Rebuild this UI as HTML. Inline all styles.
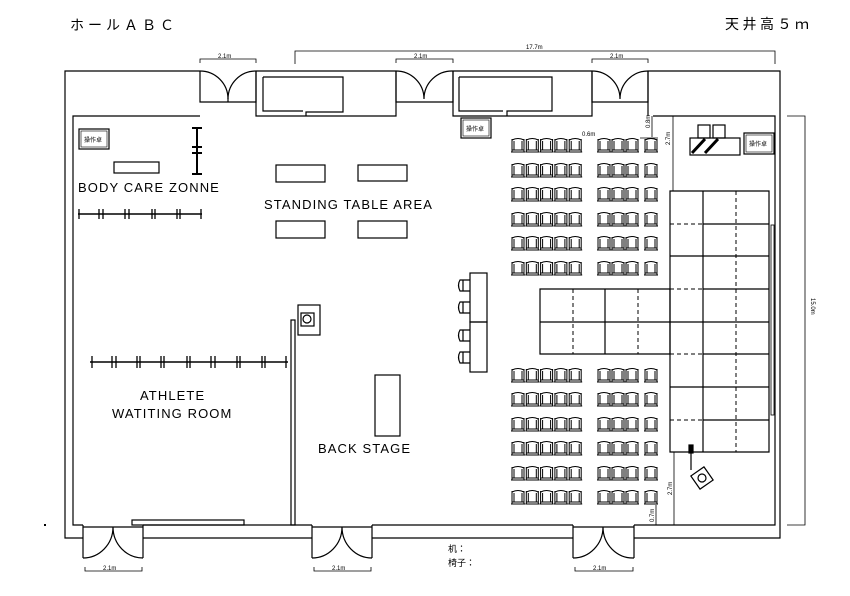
<!DOCTYPE html>
<html><head><meta charset="utf-8"><style>
html,body{margin:0;padding:0;background:#fff;}
svg{display:block;}
text{font-family:"Liberation Sans","Noto Sans CJK JP",sans-serif;fill:#000;}
.l{font-family:"Liberation Sans",sans-serif;font-size:13px;letter-spacing:1.1px;}
.s{font-size:6px;}
</style></head><body>
<svg width="850" height="596" viewBox="0 0 850 596" xmlns="http://www.w3.org/2000/svg">
<defs>
<g id="ch" fill="none" stroke="#000" stroke-width="1">
<path d="M1 3 Q7 0 13 3"/><path d="M1 2 V15 M13 2 V15 M0 15 H14 M3 4 V13 H11 V4 M1 13 H13"/>
</g>
<g id="row5"><use href="#ch" x="0"/><use href="#ch" x="14.3"/><use href="#ch" x="28.6"/><use href="#ch" x="42.9"/><use href="#ch" x="57.2"/></g>
<g id="row4"><use href="#ch" x="0"/><use href="#ch" x="14"/><use href="#ch" x="28"/><use href="#ch" x="47"/></g>
<g id="rowall"><use href="#row5" x="511"/><use href="#row4" x="597"/></g>
</defs>
<text x="70" y="30" font-size="14" letter-spacing="4">ホールＡＢＣ</text>
<text x="725" y="29" font-size="14" letter-spacing="3.5">天井高５ｍ</text>

<g fill="none" stroke="#000" stroke-width="1.2">
<path d="M200 71 H65 V538 H83"/>
<path d="M200 116 H73 V525 H83"/>
<path d="M256 71 H396 M453 71 H592 M648 71 H780 V538 H634"/>
<path d="M256 71 V116 H396 V71 M453 71 V116 H592 V71"/>
<path d="M648 71 V116 M653 116 H775 V525 H634"/>
<path d="M143 525 H312 M143 538 H312 M372 525 H573 M372 538 H573"/>
<path d="M263 77 H343 V112 H306 V116 M263 77 V111 H303"/>
<path d="M459 77 H552 V111 H507 V116 M459 77 V111 H503"/>
<path d="M200 71 V102 H256 V71 M228 102 V98"/>
<path d="M200 71 A28 28 0 0 1 228 99 A28 28 0 0 1 256 71"/>
<path d="M396 71 V102 H453 V71"/>
<path d="M396 71 A28 28 0 0 1 424 99 A28 28 0 0 1 453 71"/>
<path d="M592 71 V102 H648 V71"/>
<path d="M592 71 A28 28 0 0 1 620 99 A28 28 0 0 1 648 71"/>
<path d="M83 525 V558 M143 525 V558 M83 527 H143"/>
<path d="M83 558 A30 31 0 0 0 113 527 A30 31 0 0 0 143 558"/>
<path d="M312 525 V558 M372 525 V558 M312 527 H372"/>
<path d="M312 558 A30 31 0 0 0 342 527 A30 31 0 0 0 372 558"/>
<path d="M573 525 V558 M634 525 V558 M573 527 H634"/>
<path d="M573 558 A30 31 0 0 0 603 527 A30 31 0 0 0 634 558"/>
</g>

<g fill="none" stroke="#000" stroke-width="0.8">
<path d="M295 64 V51 H775 V64"/>
<path d="M200 63 V59 H256 V63 M396 63 V59 H453 V63 M592 63 V59 H648 V63"/>
<path d="M85 567 V571 H142 V567 M314 567 V571 H371 V567 M575 567 V571 H633 V567"/>
<path d="M787 116 H805 V525 H787"/>
<path d="M673 116 V191 M674 452 V525 M656 505 V525 M652 116 V137 M640 138 H658"/>
</g>
<g class="s">
<text x="218" y="58">2.1m</text><text x="414" y="58">2.1m</text><text x="610" y="58">2.1m</text>
<text x="526" y="49">17.7m</text>
<text x="103" y="570">2.1m</text><text x="332" y="570">2.1m</text><text x="593" y="570">2.1m</text>
<text x="582" y="136">0.6m</text>
<text transform="translate(811,298) rotate(90)">15.0m</text>
<text transform="translate(670,145) rotate(-90)">2.7m</text>
<text transform="translate(672,495) rotate(-90)">2.7m</text>
<text transform="translate(654,522) rotate(-90)">0.7m</text>
<text transform="translate(650,128) rotate(-90)">0.8m</text>
</g>

<g fill="none" stroke="#000" stroke-width="1.2">
<rect x="79" y="129" width="30" height="20"/><rect x="81" y="131" width="26" height="16" stroke-width="0.6"/>
<rect x="114" y="162" width="45" height="11"/>
<path d="M197 127 V175 M192 128 H202 M192 147 H202 M192 153 H202 M192 174 H202" stroke-width="2"/>
<path d="M78 214 H202" stroke-width="1.5"/>
<path d="M79 209 V219 M99 209 V219 M103 209 V219 M125 209 V219 M129 209 V219 M152 209 V219 M155 209 V219 M177 209 V219 M180 209 V219 M201 209 V219" stroke-width="1.3"/>
<rect x="276" y="165" width="49" height="17"/><rect x="358" y="165" width="49" height="16"/>
<rect x="276" y="221" width="49" height="17"/><rect x="358" y="221" width="49" height="17"/>
<path d="M90 362 H288" stroke-width="1.5"/>
<path d="M92 356 V368 M112 356 V368 M116 356 V368 M137 356 V368 M140 356 V368 M161 356 V368 M164 356 V368 M187 356 V368 M190 356 V368 M211 356 V368 M215 356 V368 M237 356 V368 M240 356 V368 M262 356 V368 M265 356 V368 M286 356 V368" stroke-width="1.3"/>
<rect x="132" y="520" width="112" height="5"/>
<rect x="291" y="320" width="4" height="205"/>
<rect x="298" y="305" width="22" height="30"/><rect x="301" y="313" width="13" height="13"/><circle cx="307" cy="319" r="4"/>
<rect x="375" y="375" width="25" height="61"/>
<rect x="461" y="118" width="30" height="20"/><rect x="463" y="120" width="26" height="16" stroke-width="0.6"/>
<rect x="744" y="133" width="30" height="21"/><rect x="746" y="135" width="26" height="17" stroke-width="0.6"/>
<rect x="690" y="138" width="50" height="17"/>
<rect x="698" y="125" width="12" height="13"/><rect x="713" y="125" width="12" height="13"/>
<path d="M692 153 L705 139 M705 153 L718 139" stroke-width="3"/>
<rect x="470" y="273" width="17" height="49"/><rect x="470" y="322" width="17" height="50"/>
<path d="M470 280 H460 Q457 285 460 291 H470 M470 302 H460 Q457 307 460 313 H470 M470 330 H460 Q457 335 460 341 H470 M470 352 H460 Q457 357 460 363 H470 M463 280 V291 M463 302 V313 M463 330 V341 M463 352 V363"/>
<path d="M670 191 H769 V452 H670 Z M703 191 V452"/>
<path d="M703 256 H769 M703 289 H769 M703 322 H769 M703 354 H769 M703 387 H769 M703 420 H769 M703 224 H769"/>
<path d="M670 256 H703 M670 322 H703 M670 387 H703"/>
<path d="M540 289 H670 V354 H540 Z M540 322 H670 M605 289 V354"/>
<rect x="771" y="225" width="3" height="190" stroke-width="0.8"/>
<rect x="689" y="445" width="4" height="8" fill="#000"/>
<path d="M691 453 V470"/>
<rect x="694" y="470" width="16" height="16" transform="rotate(-35 702 478)"/><circle cx="702" cy="478" r="4"/>
</g>
<g fill="none" stroke="#000" stroke-width="1" stroke-dasharray="4,3">
<path d="M736 191 V452"/>
<path d="M670 224 H703 M670 289 H703 M670 354 H703 M670 420 H703"/>
<path d="M573 289 V354 M638 289 V354"/>
</g>

<use href="#rowall" y="137"/><use href="#rowall" y="162"/><use href="#rowall" y="186"/>
<use href="#rowall" y="211"/><use href="#rowall" y="235"/><use href="#rowall" y="260"/>
<use href="#rowall" y="367"/><use href="#rowall" y="391"/><use href="#rowall" y="416"/>
<use href="#rowall" y="440"/><use href="#rowall" y="465"/><use href="#rowall" y="489"/>

<g class="s"><text x="84" y="142">操作卓</text><text x="466" y="131">操作卓</text><text x="749" y="146">操作卓</text></g>
<g class="l">
<text x="78" y="192">BODY CARE ZONNE</text>
<text x="264" y="209">STANDING TABLE AREA</text>
<text x="140" y="400">ATHLETE</text>
<text x="112" y="418">WATITING ROOM</text>
<text x="318" y="453">BACK STAGE</text>
</g>
<text x="448" y="552" font-size="9">机：</text>
<text x="448" y="566" font-size="9">椅子：</text>
<rect x="44" y="524" width="2" height="2" fill="#000"/>
</svg>
</body></html>
